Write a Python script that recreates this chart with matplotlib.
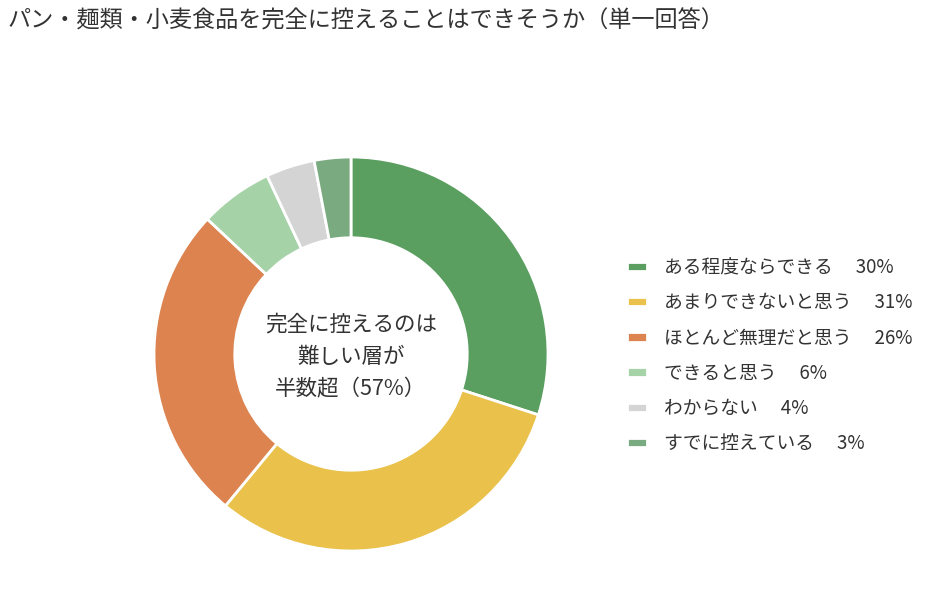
import matplotlib
matplotlib.use("Agg")
import matplotlib.pyplot as plt

plt.rcParams['font.family'] = ['Noto Sans CJK JP', 'DejaVu Sans']

title = "パン・麺類・小麦食品を完全に控えることはできそうか（単一回答）"
categories = ["ある程度ならできる", "あまりできないと思う", "ほとんど無理だと思う",
              "できると思う", "わからない", "すでに控えている"]
values = [30, 31, 26, 6, 4, 3]
colors = ["#5a9f60", "#e9c14b", "#dc8350", "#a6d2a7", "#d4d4d4", "#7aab80"]
center_text = "完全に控えるのは\n難しい層が\n半数超（57%）"

fig = plt.figure(figsize=(9.3, 6.12), dpi=100)
fig.patch.set_facecolor("white")
ax = fig.add_axes([(351 - 197) / 930, (612 - 354 - 197) / 612, 394 / 930, 394 / 612])
wedges, _ = ax.pie(values, colors=colors, startangle=90, counterclock=False,
                   radius=1.0, wedgeprops=dict(width=0.41, edgecolor="white", linewidth=2))
ax.set_xlim(-1.0, 1.0)
ax.set_ylim(-1.0, 1.0)
ax.set_aspect("equal")
ax.axis("off")
ax.text(0, -0.015, center_text, ha="center", va="center", fontsize=15.5,
        color="#333333", linespacing=1.6)

labels = [f"{c}　 {v}%" for c, v in zip(categories, values)]
fig.legend(wedges, labels, loc="upper left", bbox_to_anchor=(627 / 930, 1 - 257 / 612),
           frameon=False, fontsize=13.5, labelcolor="#333333",
           handlelength=1.07, handleheight=0.4, handletextpad=0.9, labelspacing=0.76,
           borderpad=0, borderaxespad=0)

fig.text(8 / 930, 1 - 21 / 612, title, ha="left", va="center", fontsize=16.7, color="#333333")

fig.savefig("out.png", dpi=100)
